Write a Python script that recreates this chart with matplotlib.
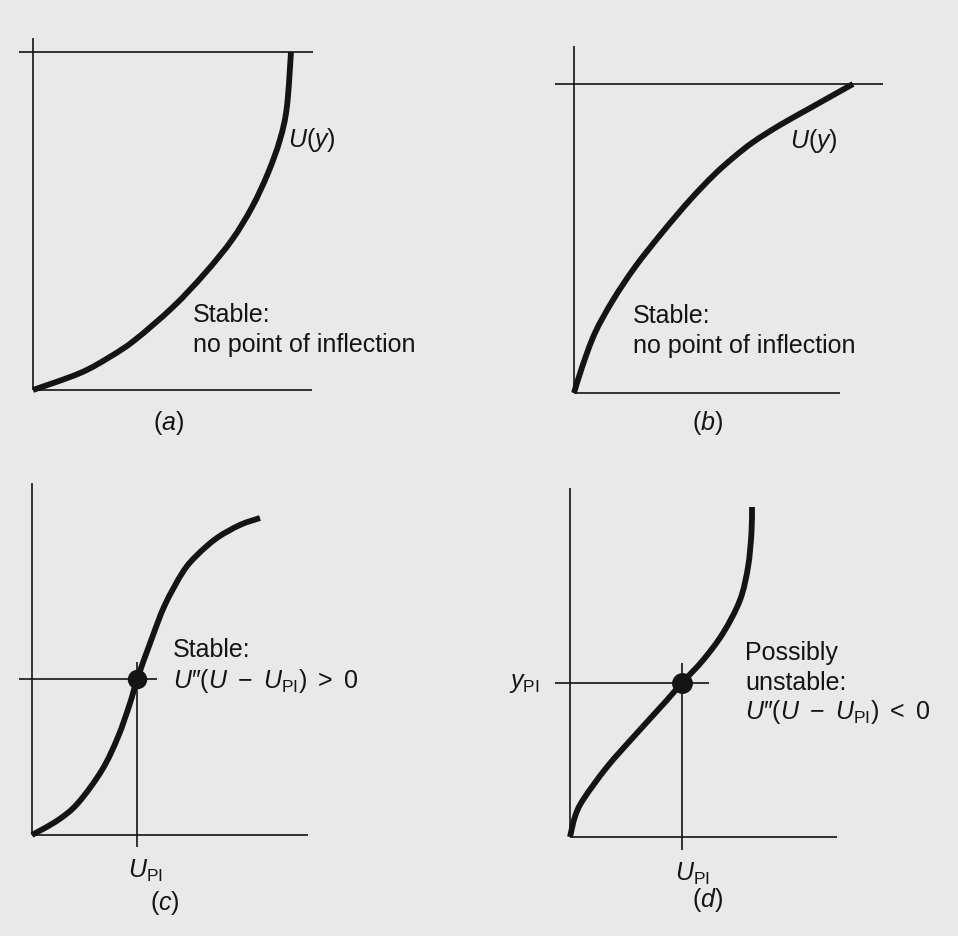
import numpy as np
import matplotlib
matplotlib.use("Agg")
import matplotlib.pyplot as plt
from matplotlib.path import Path
from matplotlib.patches import PathPatch

plt.rcParams['font.family'] = ['Liberation Sans', 'DejaVu Sans']
plt.rcParams['mathtext.fontset'] = 'custom'
plt.rcParams['mathtext.rm'] = 'Liberation Sans'
plt.rcParams['mathtext.it'] = 'Liberation Sans:italic'
plt.rcParams['mathtext.bf'] = 'Liberation Sans:bold'

# velocity profiles U(y), scaled so each curve ends at U = 1, y = 1
u_a = [0.0, 0.182, 0.298, 0.395, 0.543, 0.667, 0.771, 0.849, 0.911, 0.957, 0.984, 1.0]
y_a = [0.0, 0.050, 0.098, 0.148, 0.246, 0.346, 0.444, 0.541, 0.642, 0.740, 0.837, 1.0]

u_b = [0.0, 0.029, 0.075, 0.140, 0.219, 0.315, 0.416, 0.502, 0.570, 0.642, 0.738, 0.846, 1.0]
y_b = [0.0, 0.084, 0.194, 0.301, 0.408, 0.518, 0.625, 0.706, 0.761, 0.812, 0.867, 0.922, 1.0]

u_c = [0.0, 0.114, 0.202, 0.307, 0.377, 0.430, 0.461, 0.526, 0.583, 0.662, 0.724, 0.811, 0.912, 1.0]
y_c = [0.0, 0.047, 0.101, 0.205, 0.309, 0.416, 0.491, 0.621, 0.726, 0.830, 0.883, 0.937, 0.978, 1.0]

u_d = [0.0, 0.027, 0.071, 0.203, 0.368, 0.533, 0.615, 0.731, 0.841, 0.934, 0.978, 0.997, 1.0]
y_d = [0.0, 0.061, 0.112, 0.212, 0.315, 0.415, 0.467, 0.536, 0.618, 0.718, 0.818, 0.921, 1.0]

# points of inflection (U_PI, y_PI)
pi_c = (0.461, 0.491)
pi_d = (0.615, 0.467)

W, H = 958, 936
ink = '#141414'
thin = 1.2
thick = 4.2

fig = plt.figure(figsize=(W / 100, H / 100), dpi=100)
fig.patch.set_facecolor('#e9e9e9')


def panel(x0, y0, ux, uy):
    # axes whose unit square sits on the profile's origin / end point
    ax = fig.add_axes([x0 / W, (H - y0) / H, ux / W, uy / H])
    ax.set_xlim(0, 1)
    ax.set_ylim(0, 1)
    ax.axis('off')
    return ax


def smooth(u, y):
    p = np.column_stack([u, y])
    verts = [p[0]]
    codes = [Path.MOVETO]
    for i in range(len(p) - 1):
        p0 = p[i - 1] if i > 0 else p[i]
        p3 = p[i + 2] if i + 2 < len(p) else p[i + 1]
        verts += [p[i] + (p[i + 1] - p0) / 6, p[i + 1] - (p3 - p[i]) / 6, p[i + 1]]
        codes += [Path.CURVE4] * 3
    return Path(verts, codes)


def line(ax, xs, ys):
    ax.plot(xs, ys, color=ink, lw=thin, solid_capstyle='butt', clip_on=False)


def profile(ax, u, y):
    ax.add_patch(PathPatch(smooth(u, y), fill=False, ec=ink, lw=thick,
                           capstyle='butt', clip_on=False))


def label(ax, x, y, s, **kw):
    kw.setdefault('ha', 'left')
    kw.setdefault('va', 'baseline')
    ax.text(x, y, s, fontsize=18, color=ink, clip_on=False, **kw)


crit_c = r"$U$″$(U\ -\ U_{\rm PI})\ >\ 0$"
crit_d = r"$U$″$(U\ -\ U_{\rm PI})\ <\ 0$"

# (a)
ax = panel(33, 390, 258, 338)
line(ax, [0, 0], [0, 1.041])
line(ax, [-0.054, 1.085], [1, 1])
line(ax, [0, 1.081], [0, 0])
profile(ax, u_a, y_a)
label(ax, 0.988, 0.719, r'$U(y)$')
label(ax, 0.620, 0.201, 'Stable:')
label(ax, 0.620, 0.112, 'no point of inflection')
label(ax, 0.527, -0.098, r'$(a)$', ha='center', va='center')

# (b)
ax = panel(574, 393, 279, 309)
line(ax, [0, 0], [0, 1.123])
line(ax, [-0.068, 1.108], [1, 1])
line(ax, [0, 0.953], [0, 0])
profile(ax, u_b, y_b)
label(ax, 0.774, 0.793, r'$U(y)$')
label(ax, 0.211, 0.227, 'Stable:')
label(ax, 0.211, 0.129, 'no point of inflection')
label(ax, 0.480, -0.097, r'$(b)$', ha='center', va='center')

# (c)
ax = panel(32, 835, 228, 317)
line(ax, [0, 0], [0, 1.110])
line(ax, [0, 1.211], [0, 0])
line(ax, [-0.057, 0.548], [pi_c[1], pi_c[1]])
line(ax, [pi_c[0], pi_c[0]], [-0.038, 0.546])
profile(ax, u_c, y_c)
ax.plot(*pi_c, 'o', color=ink, ms=13, clip_on=False)
label(ax, 0.618, 0.562, 'Stable:')
label(ax, 0.618, 0.464, crit_c)
label(ax, 0.421, -0.136, r'$U_{\rm PI}$')
label(ax, 0.583, -0.215, r'$(c)$', ha='center', va='center')

# (d)
ax = panel(570, 837, 182, 330)
line(ax, [0, 0], [0, 1.058])
line(ax, [0, 1.467], [0, 0])
line(ax, [-0.082, 0.764], [pi_d[1], pi_d[1]])
line(ax, [pi_d[0], pi_d[0]], [-0.039, 0.527])
profile(ax, u_d, y_d)
ax.plot(*pi_d, 'o', color=ink, ms=14, clip_on=False)
label(ax, 0.962, 0.536, 'Possibly')
label(ax, 0.962, 0.445, 'unstable:')
label(ax, 0.962, 0.358, crit_d)
label(ax, -0.165, 0.452, r'$y_{\rm PI}$', ha='right')
label(ax, 0.577, -0.133, r'$U_{\rm PI}$')
label(ax, 0.758, -0.191, r'$(d)$', ha='center', va='center')

fig.savefig('out.png', dpi=100, facecolor=fig.get_facecolor())
